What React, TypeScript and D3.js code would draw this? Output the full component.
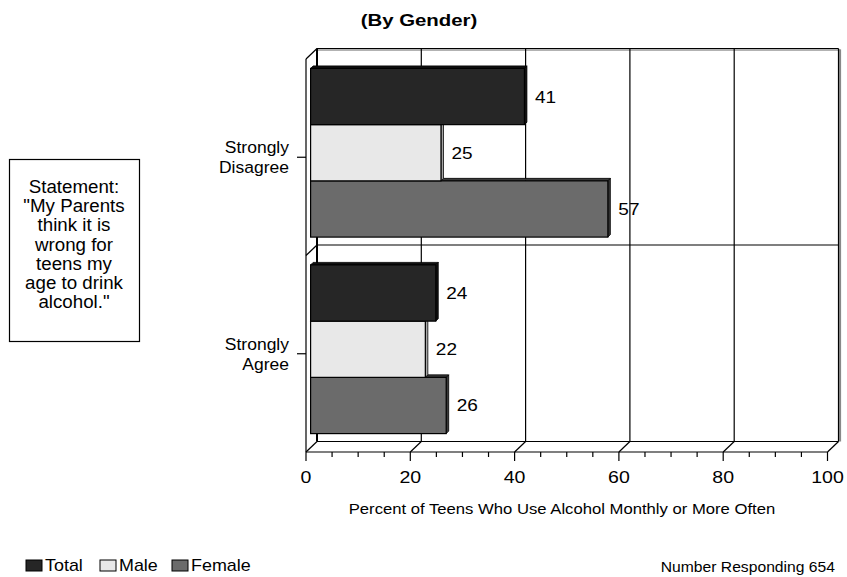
import React from "react";
import * as d3 from "d3";

const categories = ["Strongly Disagree", "Strongly Agree"];
const categoryLines = [["Strongly", "Disagree"], ["Strongly", "Agree"]];
const seriesNames = ["Total", "Male", "Female"];
const totalValues = [41, 24];
const maleValues = [25, 22];
const femaleValues = [57, 26];
const xTicks = [0, 20, 40, 60, 80, 100];
const statementLines = ["Statement:", "\"My Parents", "think it is", "wrong for", "teens my", "age to drink", "alcohol.\""];
const colors = ["#262626", "#e8e8e8", "#6b6b6b"];
const sideColors = ["#111111", "#a8a8a8", "#3a3a3a"];

const FONT = "'Liberation Sans', Arial, Helvetica, sans-serif";

function T({ x, y, children, size = 16, sx = 1.1, anchor = "start", weight = "normal" }: any) {
  return (
    <text
      transform={`translate(${x},${y}) scale(${sx},1)`}
      fontFamily={FONT}
      fontSize={size}
      fontWeight={weight}
      textAnchor={anchor}
      fill="#000"
    >
      {children}
    </text>
  );
}

export default function App() {
  const W = 847, H = 577;
  const x = d3.scaleLinear().domain([0, 100]).range([306, 827.5]);
  const top = 59, bottom = 452;
  const dx = 11, dy = -10.5;
  const bx = 4.6, by = -4.5; // bar plane offset
  const e = 2.5; // bar extrusion
  const yCat = d3.scaleBand().domain(categories).range([top, bottom]).paddingInner(0.1415).paddingOuter(0.07075);
  const ySer = d3.scaleBand().domain(seriesNames).range([0, yCat.bandwidth()]);
  const values = [totalValues, maleValues, femaleValues];
  const step = yCat.step();

  const bars: any[] = [];
  for (let ci = categories.length - 1; ci >= 0; ci--) {
    for (let si = seriesNames.length - 1; si >= 0; si--) {
      const v = values[si][ci];
      const x0 = x(0) + bx;
      const x1 = x(v) + bx;
      const y0 = (yCat(categories[ci]) as number) + (ySer(seriesNames[si]) as number) + by;
      const y1 = y0 + ySer.bandwidth();
      bars.push(
        <g key={`${ci}-${si}`}>
          <polygon
            points={`${x0},${y0} ${x0 + e},${y0 - e} ${x1 + e},${y0 - e} ${x1},${y0}`}
            fill={sideColors[si]}
            stroke="#000"
            strokeWidth={0.8}
            strokeLinejoin="round"
          />
          <polygon
            points={`${x1},${y0} ${x1 + e},${y0 - e} ${x1 + e},${y1 - e} ${x1},${y1}`}
            fill={sideColors[si]}
            stroke="#000"
            strokeWidth={0.8}
            strokeLinejoin="round"
          />
          <rect x={x0} y={y0} width={x1 - x0} height={y1 - y0} fill={colors[si]} stroke="#000" strokeWidth={1.2} />
        </g>
      );
    }
  }

  const labels: any[] = [];
  categories.forEach((c, ci) => {
    seriesNames.forEach((s, si) => {
      const v = values[si][ci];
      const y0 = (yCat(c) as number) + (ySer(s) as number) + by;
      labels.push(
        <T key={`l${ci}-${si}`} x={x(v) + bx + e + 8} y={y0 + ySer.bandwidth() / 2 + 6} size={17} sx={1.12}>
          {String(v)}
        </T>
      );
    });
  });

  const minorTicks = d3.range(0, 101, 5);
  const backTop = top + dy;
  const backBottom = bottom + dy;
  const stroke = "#000";
  const sw = 1.2;

  return (
    <svg width={W} height={H} style={{ display: "block", position: "absolute", left: 0, top: 0 }}>
      <rect x={0} y={0} width={W} height={H} fill="#fff" />
      <T x={419} y={26} size={17} sx={1.2} anchor="middle" weight="bold">(By Gender)</T>

      {/* back wall shadow */}
      <line x1={x(0) + dx} x2={x(100) + dx + 2} y1={backTop + 1.6} y2={backTop + 1.6} stroke="#999" strokeWidth={1.5} />
      <line x1={x(100) + dx + 1.6} x2={x(100) + dx + 1.6} y1={backTop + 1} y2={backBottom} stroke="#888" strokeWidth={2} />

      {/* back wall grid */}
      {xTicks.map((t) => (
        <line key={`g${t}`} x1={x(t) + dx} x2={x(t) + dx} y1={backTop} y2={backBottom} stroke={stroke} strokeWidth={t === 0 ? 2 : sw} />
      ))}
      <line x1={x(0) + dx} x2={x(100) + dx} y1={backTop} y2={backTop} stroke={stroke} strokeWidth={sw} />
      <line x1={x(0) + dx} x2={x(100) + dx} y1={backBottom} y2={backBottom} stroke={stroke} strokeWidth={sw} />
      <line x1={x(0) + dx} x2={x(100) + dx} y1={top + step + dy} y2={top + step + dy} stroke={stroke} strokeWidth={sw} />
      <line x1={x(0)} x2={x(0) + dx} y1={top + step} y2={top + step + dy} stroke={stroke} strokeWidth={sw} />
      <line x1={x(0)} x2={x(0)} y1={top} y2={bottom} stroke={stroke} strokeWidth={sw} />
      <line x1={x(0)} x2={x(0) + dx} y1={top} y2={backTop} stroke={stroke} strokeWidth={sw} />
      {xTicks.map((t) => (
        <line key={`d${t}`} x1={x(t)} x2={x(t) + dx} y1={bottom} y2={backBottom} stroke={stroke} strokeWidth={sw} />
      ))}
      <line x1={x(0)} x2={x(100)} y1={bottom} y2={bottom} stroke={stroke} strokeWidth={sw} />

      {minorTicks.map((t) => (
        <line key={`t${t}`} x1={x(t)} x2={x(t)} y1={bottom} y2={bottom + (t % 20 === 0 ? 9 : 5)} stroke={stroke} strokeWidth={sw} />
      ))}
      {xTicks.map((t) => (
        <T key={`tl${t}`} x={x(t)} y={483} size={17} sx={1.15} anchor="middle">{String(t)}</T>
      ))}

      {categories.map((c, ci) => {
        const cy = (yCat(c) as number) + yCat.bandwidth() / 2;
        return (
          <g key={c}>
            <line x1={x(0) - 9} x2={x(0)} y1={cy} y2={cy} stroke={stroke} strokeWidth={sw} />
            <T x={289} y={cy - 4} size={17} sx={1.03} anchor="end">{categoryLines[ci][0]}</T>
            <T x={289} y={cy + 16} size={17} sx={1.03} anchor="end">{categoryLines[ci][1]}</T>
          </g>
        );
      })}

      {bars}
      {labels}

      <T x={562} y={514} size={14.5} sx={1.15} anchor="middle">Percent of Teens Who Use Alcohol Monthly or More Often</T>

      <rect x={9.5} y={159.5} width={130} height={182} fill="#fff" stroke="#000" strokeWidth={1.2} />
      {statementLines.map((l, i) => (
        <T key={`s${i}`} x={74} y={193 + i * 19.2} size={17.5} sx={1.07} anchor="middle">{l}</T>
      ))}

      {seriesNames.map((s, si) => {
        const lx = [26, 100, 172][si];
        return (
          <g key={`lg${s}`}>
            <rect x={lx} y={560} width={16} height={11} fill={colors[si]} stroke="#000" strokeWidth={1} />
            <T x={lx + 19} y={571} size={16} sx={1.12}>{s}</T>
          </g>
        );
      })}

      <T x={835} y={572} size={14} sx={1.12} anchor="end">Number Responding 654</T>
    </svg>
  );
}
